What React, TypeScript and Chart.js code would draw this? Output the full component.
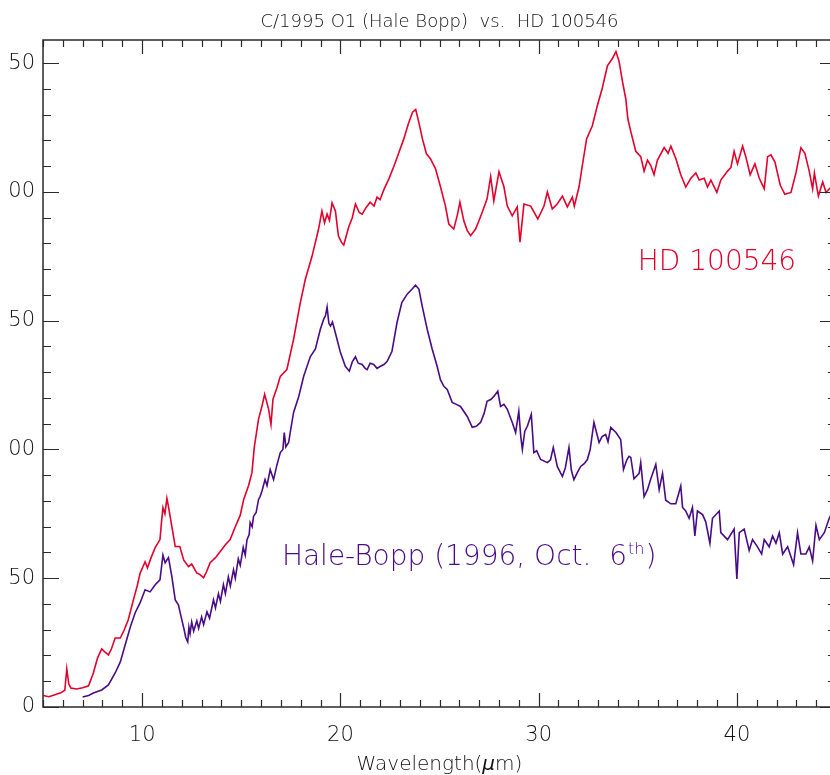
import { useEffect, useRef } from 'react';
import { Chart, registerables } from 'chart.js';

Chart.register(...registerables);

// ---------- data ----------
const hdWavelength = [
  5.0, 5.3, 5.6, 5.9, 6.1, 6.2, 6.3, 6.4, 6.7, 7.0,
  7.3, 7.54, 7.75, 7.96, 8.1, 8.3, 8.45, 8.64, 8.9, 9.1,
  9.3, 9.56, 9.75, 9.9, 10.15, 10.27, 10.45, 10.66, 10.9, 10.98,
  11.05, 11.15, 11.25, 11.33, 11.5, 11.67, 11.9, 12.1, 12.34, 12.5,
  12.76, 12.9, 13.1, 13.25, 13.43, 13.7, 13.94, 14.2, 14.44, 14.7,
  14.95, 15.12, 15.37, 15.54, 15.66, 15.87, 16.05, 16.18, 16.3, 16.38,
  16.5, 16.6, 16.8, 16.97, 17.3, 17.64, 17.98, 18.23, 18.57, 18.9,
  19.07, 19.2, 19.33, 19.45, 19.58, 19.75, 19.9, 20.05, 20.17, 20.42,
  20.6, 20.76, 20.95, 21.1, 21.3, 21.5, 21.7, 21.85, 22.0, 22.2,
  22.44, 22.7, 22.93, 23.2, 23.43, 23.64, 23.8, 23.94, 24.14, 24.34,
  24.55, 24.8, 25.05, 25.3, 25.47, 25.72, 25.9, 26.03, 26.23, 26.4,
  26.57, 26.82, 27.0, 27.16, 27.4, 27.58, 27.74, 28.0, 28.25, 28.42,
  28.67, 28.92, 29.06, 29.26, 29.6, 29.96, 30.27, 30.44, 30.69, 30.94,
  31.2, 31.45, 31.7, 31.8, 32.04, 32.2, 32.42, 32.71, 32.96, 33.2,
  33.47, 33.72, 33.9, 34.06, 34.23, 34.4, 34.5, 34.65, 34.9, 35.15,
  35.32, 35.49, 35.66, 35.82, 35.99, 36.33, 36.53, 36.67, 36.92, 37.17,
  37.42, 37.68, 37.93, 38.1, 38.35, 38.52, 38.69, 38.99, 39.19, 39.53,
  39.7, 39.86, 40.03, 40.29, 40.45, 40.67, 40.91, 41.13, 41.38, 41.55,
  41.72, 41.92, 42.19, 42.42, 42.73, 42.98, 43.23, 43.43, 43.65, 43.82,
  43.91, 44.11, 44.33, 44.5, 44.75,
];
const hdFlux = [
  4.5, 4.0, 4.8, 5.5, 6.5, 14.8, 9, 7.4, 7.0, 7.5,
  8.2, 13.2, 19, 22.6, 21.5, 20.2, 22.5, 26.8, 26.8, 30,
  33.9, 41.6, 47, 52, 56.4, 54, 58, 61.9, 65, 72,
  77.4, 75, 81, 77.8, 70, 62.3, 62.3, 57, 54.5, 55.5,
  52, 51.5, 50.2, 52.5, 56, 58, 60.4, 63, 65, 70,
  74.5, 80.5, 86, 91, 101, 111.7, 117, 121.4, 118, 115.6,
  109.7, 119.5, 124, 128.4, 131, 142.8, 157, 166, 175, 185.6,
  192.6, 188, 191.4, 189, 195.7, 192.6, 183, 180.5, 179.4, 186.4,
  190, 195.3, 192, 191.4, 194, 196, 194.5, 198, 197, 201,
  205, 210, 214.8, 220.6, 226.5, 231, 232, 227.6, 220.6, 214.8,
  212.8, 209, 202, 194.5, 187.5, 185.6, 191, 196, 188.7, 185,
  183, 185.6, 189, 192.2, 197.3, 206, 196.5, 207.8, 202, 194.5,
  190.7, 194.2, 180.5, 195.3, 194.5, 189.5, 194.5, 200, 193.4, 195.3,
  198.4, 194.2, 198, 194.5, 202, 210, 220.6, 225.7, 233.5, 240,
  249, 251.8, 254.5, 250.6, 242.8, 236, 228.4, 223.4, 215.8, 213.7,
  208.1, 212.3, 210.2, 206.7, 212.3, 217.2, 215, 217.8, 213, 206.7,
  201.9, 205.3, 207.4, 204.6, 205.3, 201.9, 204.6, 199.8, 204.6, 208.1,
  209.5, 215.8, 210.9, 217.8, 213.7, 206.7, 210.9, 205.3, 201.2, 213.7,
  214.4, 211.6, 202.6, 199.1, 199.8, 207.4, 217.2, 215, 208.1, 201.2,
  207.4, 198.4, 203.9, 199.8, 201.9,
];

const cometWavelength = [
  7.0, 7.3, 7.54, 7.96, 8.3, 8.64, 8.9, 9.14, 9.4, 9.65,
  9.9, 10.15, 10.4, 10.66, 10.9, 11.05, 11.16, 11.33, 11.5, 11.67,
  11.83, 12.0, 12.12, 12.2, 12.3, 12.36, 12.42, 12.5, 12.6, 12.76,
  12.85, 13.0, 13.1, 13.27, 13.4, 13.6, 13.7, 13.85, 13.95, 14.1,
  14.2, 14.35, 14.45, 14.61, 14.7, 14.85, 14.95, 15.1, 15.2, 15.29,
  15.4, 15.45, 15.55, 15.62, 15.75, 15.87, 15.95, 16.05, 16.2, 16.3,
  16.46, 16.63, 16.8, 16.97, 17.1, 17.17, 17.25, 17.39, 17.5, 17.64,
  17.9, 18.15, 18.48, 18.74, 18.99, 19.16, 19.25, 19.33, 19.42, 19.5,
  19.6, 19.7, 19.83, 20.0, 20.25, 20.45, 20.6, 20.76, 20.9, 21.1,
  21.25, 21.35, 21.5, 21.68, 21.85, 22.02, 22.2, 22.36, 22.6, 22.86,
  23.1, 23.37, 23.62, 23.79, 23.96, 24.13, 24.38, 24.63, 24.88, 25.05,
  25.22, 25.39, 25.64, 25.85, 26.06, 26.4, 26.65, 26.85, 27.07, 27.25,
  27.4, 27.6, 27.74, 27.94, 28.08, 28.25, 28.42, 28.67, 28.84, 29.0,
  29.1, 29.18, 29.3, 29.43, 29.63, 29.76, 29.9, 30.1, 30.44, 30.6,
  30.74, 30.94, 31.2, 31.35, 31.53, 31.65, 31.78, 31.95, 32.12, 32.3,
  32.46, 32.6, 32.79, 33.05, 33.2, 33.38, 33.5, 33.64, 33.9, 34.14,
  34.28, 34.45, 34.56, 34.65, 34.81, 35.07, 35.15, 35.32, 35.49, 35.66,
  35.91, 36.08, 36.25, 36.41, 36.67, 36.92, 37.17, 37.26, 37.42, 37.59,
  37.76, 37.88, 38.01, 38.27, 38.43, 38.64, 38.77, 39.11, 39.19, 39.53,
  39.86, 40.0, 40.12, 40.37, 40.62, 40.79, 41.04, 41.25, 41.38, 41.63,
  41.8, 41.97, 42.14, 42.31, 42.56, 42.86, 43.06, 43.23, 43.48, 43.65,
  43.82, 43.99, 44.16, 44.41, 44.66, 44.75,
];
const cometFlux = [
  3.9, 4.5, 5.4, 6.6, 8.6, 13.2, 17.5, 24, 31, 36.6,
  40.5, 45.5, 44.7, 47.5, 49.4, 59, 56, 58, 50.6, 41.6,
  39.7, 33.9, 30, 27, 25.3, 31, 28.5, 33, 29.5, 33.5,
  30.5, 35, 32, 37, 34.5, 41.6, 38.5, 44, 41, 47.5,
  44, 50.5, 47, 53.3, 50, 57.5, 55, 62, 59, 65,
  67, 71.6, 70, 74, 75.5, 80.5, 81.7, 84, 88.3, 86,
  92.2, 88.3, 94, 98.8, 100, 106.6, 101, 102.7, 108, 114.4,
  120.6, 128.4, 136, 139, 146.7, 150.6, 152, 155.3, 149, 147.9,
  149.5, 146.7, 142.8, 137.7, 132.3, 130.4, 134, 136, 133.5, 133,
  131.5, 131, 133.5, 133, 131.5, 132.3, 133, 134.2, 138, 149.4,
  157, 160.3, 162.3, 163.8, 162.3, 155.6, 146.7, 139, 132.3, 127,
  124.5, 123.3, 118.3, 117.5, 116.7, 112.8, 108.6, 109, 110.5, 114,
  118.7, 119.5, 120.6, 122.6, 116.7, 117.5, 115.6, 110.5, 106.6, 114.8,
  105, 100, 107, 109, 113.6, 98.8, 99.5, 96.1, 94.9, 96,
  100.8, 93.4, 89.5, 93, 100.8, 92, 88.3, 91, 93.4, 94.5,
  96.1, 100, 110.5, 102.7, 105, 105.8, 103, 108.6, 106.6, 103.9,
  92.2, 96, 97.3, 96.9, 88.6, 90.7, 94.9, 81.7, 84.4, 88.6,
  94.2, 84.4, 90.7, 80.3, 78.9, 78.9, 85.8, 77.5, 76.1, 73.3,
  77.5, 66.4, 76.1, 74.7, 71.9, 63.6, 73.3, 76.1, 67.7, 65,
  69.1, 49.7, 67.7, 69.1, 60.8, 65, 62.2, 59.4, 65, 62.2,
  66.4, 63.6, 67.7, 59.4, 62.2, 55.3, 67.7, 59.4, 59.4, 62.2,
  56.7, 70.5, 65, 67.7, 73.3, 74.7,
];

const xMajorTicks = [10, 20, 30, 40];
const yMajorTicks = [0, 50, 100, 150, 200, 250];

const TITLE = 'C/1995 O1 (Hale Bopp)  vs.  HD 100546';
const HD_LABEL = 'HD 100546';
const COMET_LABEL = 'Hale-Bopp (1996, Oct.  6';
const COMET_SUP = 'th';
const COMET_END = ')';

const RED = '#e3002c';
const PURPLE = '#4a0c86';
const INK = '#2a2a2a';
const TEXT_INK = '#111111';
const FONT = '"DejaVu Sans", "Open Sans", sans-serif';

const X_MIN = 5;
const X_MAX = 45;
const Y_MIN = 0;
const Y_MAX = 259;

const idlPlugin = {
  id: 'idlFrame',
  afterDraw(chart: any) {
    const { ctx, chartArea, scales } = chart;
    const { left, right, top, bottom } = chartArea;
    const xs = scales.x;
    const ys = scales.y;
    ctx.save();
    // frame
    ctx.strokeStyle = INK;
    ctx.lineWidth = 1.5;
    ctx.strokeRect(left, top, right - left, bottom - top);
    // x ticks (bottom + top, inward)
    ctx.lineWidth = 1.2;
    for (let v = X_MIN; v <= X_MAX; v += 1) {
      const px = Math.round(xs.getPixelForValue(v)) + 0.5;
      const len = v % 10 === 0 ? 14 : 7;
      ctx.beginPath();
      ctx.moveTo(px, bottom);
      ctx.lineTo(px, bottom - len);
      ctx.moveTo(px, top);
      ctx.lineTo(px, top + len);
      ctx.stroke();
    }
    // y ticks (left + right, inward)
    for (let v = Y_MIN; v <= Y_MAX; v += 10) {
      const py = Math.round(ys.getPixelForValue(v)) + 0.5;
      const len = v % 50 === 0 ? 16 : 8;
      ctx.beginPath();
      ctx.moveTo(left, py);
      ctx.lineTo(left + len, py);
      ctx.moveTo(right, py);
      ctx.lineTo(right - len, py);
      ctx.stroke();
    }
    // title
    const cx = (left + right) / 2;
    ctx.fillStyle = TEXT_INK;
    ctx.font = `200 18px ${FONT}`;
    ctx.textAlign = 'center';
    ctx.textBaseline = 'alphabetic';
    ctx.fillText(TITLE, cx, 27);
    // x axis title with italic mu
    ctx.font = `200 20px ${FONT}`;
    const a = 'Wavelength(';
    const b = 'μ';
    const c = 'm)';
    const wa = ctx.measureText(a).width;
    const wc = ctx.measureText(c).width;
    ctx.font = `italic 200 20px ${FONT}`;
    const wb = ctx.measureText(b).width;
    const sx = cx - (wa + wb + wc) / 2;
    ctx.textAlign = 'left';
    ctx.font = `200 20px ${FONT}`;
    ctx.fillText(a, sx, 770);
    ctx.font = `italic 200 20px ${FONT}`;
    ctx.fillText(b, sx + wa, 770);
    ctx.font = `200 20px ${FONT}`;
    ctx.fillText(c, sx + wa + wb, 770);
    // annotations
    ctx.font = `200 28px ${FONT}`;
    ctx.fillStyle = RED;
    ctx.fillText(HD_LABEL, xs.getPixelForValue(35.0), ys.getPixelForValue(169.6));
    ctx.fillStyle = PURPLE;
    const hx = xs.getPixelForValue(17.05);
    const hy = ys.getPixelForValue(55);
    ctx.fillText(COMET_LABEL, hx, hy);
    const w1 = ctx.measureText(COMET_LABEL).width;
    ctx.font = `200 16px ${FONT}`;
    ctx.fillText(COMET_SUP, hx + w1 + 1, hy - 11);
    const w2 = ctx.measureText(COMET_SUP).width;
    ctx.font = `200 28px ${FONT}`;
    ctx.fillText(COMET_END, hx + w1 + w2 + 2, hy);
    ctx.restore();
  },
};

export default function App() {
  const canvasRef = useRef<HTMLCanvasElement | null>(null);

  useEffect(() => {
    const canvas = canvasRef.current;
    if (!canvas) return;
    const chart = new Chart(canvas, {
      type: 'line',
      data: {
        datasets: [
          {
            label: HD_LABEL,
            data: hdWavelength.map((x, i) => ({ x, y: hdFlux[i] })),
            borderColor: RED,
            borderWidth: 1.6,
            pointRadius: 0,
            tension: 0,
            fill: false,
          },
          {
            label: 'Hale-Bopp',
            data: cometWavelength.map((x, i) => ({ x, y: cometFlux[i] })),
            borderColor: PURPLE,
            borderWidth: 1.6,
            pointRadius: 0,
            tension: 0,
            fill: false,
          },
        ],
      },
      options: {
        animation: false,
        responsive: false,
        devicePixelRatio: 1,
        layout: { padding: { top: 40, right: 9, left: 0, bottom: 0 } },
        plugins: {
          legend: { display: false },
          title: { display: false },
          tooltip: { enabled: false },
        },
        scales: {
          x: {
            type: 'linear',
            min: X_MIN,
            max: X_MAX,
            grid: { display: false, drawTicks: false },
            border: { display: false },
            afterBuildTicks: (s: any) => {
              s.ticks = xMajorTicks.map((v) => ({ value: v }));
            },
            afterFit: (s: any) => {
              s.height = 68;
            },
            ticks: {
              autoSkip: false,
              maxRotation: 0,
              padding: 16,
              color: TEXT_INK,
              font: { family: FONT, size: 21, weight: '200' },
              callback: (v: any) => String(v),
            },
          },
          y: {
            type: 'linear',
            min: Y_MIN,
            max: Y_MAX,
            grid: { display: false, drawTicks: false },
            border: { display: false },
            afterBuildTicks: (s: any) => {
              s.ticks = yMajorTicks.map((v) => ({ value: v }));
            },
            afterFit: (s: any) => {
              s.width = 43;
            },
            ticks: {
              autoSkip: false,
              padding: 8,
              color: TEXT_INK,
              font: { family: FONT, size: 21, weight: '200' },
              callback: (v: any) => String(v).slice(-2),
            },
          },
        },
      },
      plugins: [idlPlugin],
    });
    return () => chart.destroy();
  }, []);

  return (
    <div
      style={{
        position: 'absolute',
        left: 0,
        top: 0,
        width: 830,
        height: 775,
        overflow: 'hidden',
        background: '#fff',
      }}
    >
      <canvas ref={canvasRef} width={845} height={775} style={{ display: 'block' }} />
    </div>
  );
}
